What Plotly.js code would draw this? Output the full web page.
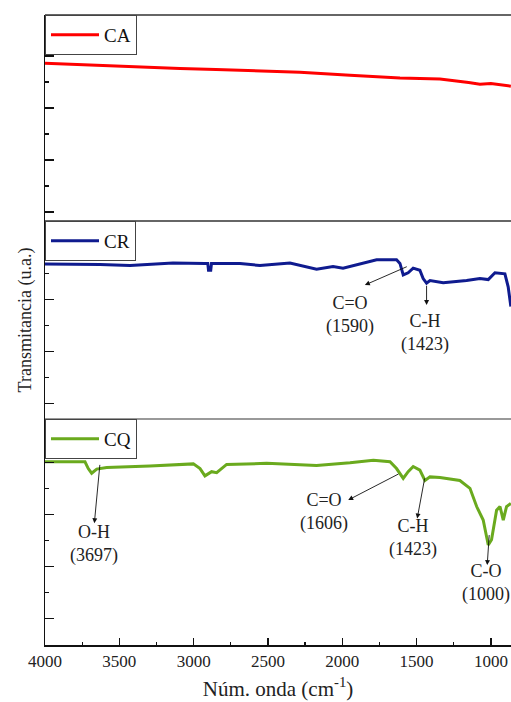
<!DOCTYPE html>
<html>
<head>
<meta charset="utf-8">
<script src="https://cdn.plot.ly/plotly-3.0.1.min.js"></script>
<style>html,body{margin:0;padding:0;background:#fff;}#chart{width:511px;height:702px;}</style>
</head>
<body>
<div id="chart"></div>
<script>
// Wavenumbers (cm-1) and transmittance (arbitrary units)
const wnCA = [4000, 3820, 3630, 3400, 3092, 2850, 2621, 2285, 1948, 1612, 1343, 1209, 1150, 1074, 1000, 866];
const tCA  = [28.6, 28.4, 28.1, 27.9, 27.6, 27.4, 27.2, 26.9, 26.3, 25.8, 25.6, 25.2, 24.9, 24.6, 24.7, 24.2];

const wnCR = [4000, 3630, 3428, 3139, 2925, 2905, 2900, 2885, 2880, 2688, 2554, 2352, 2173, 2062, 1995, 1881, 1769, 1635, 1612, 1590, 1557, 1523, 1478, 1456, 1433, 1410, 1321, 1164, 1074, 1018, 973, 906, 884, 866];
const tCR  = [26.8, 26.7, 26.5, 27.0, 26.9, 26.9, 25.6, 25.6, 26.9, 26.9, 26.5, 27.0, 25.8, 26.3, 26.0, 26.8, 27.6, 27.6, 26.9, 24.7, 25.1, 26.0, 25.6, 24.0, 23.1, 23.6, 23.2, 23.6, 24.0, 23.8, 25.1, 24.9, 22.4, 18.6];

const wnCQ = [4000, 3731, 3709, 3686, 3652, 3585, 3294, 3002, 2957, 2924, 2879, 2845, 2778, 2509, 2173, 1948, 1791, 1679, 1635, 1590, 1557, 1523, 1478, 1444, 1410, 1343, 1209, 1141, 1096, 1052, 1018, 996, 962, 939, 917, 895, 866];
const tCQ  = [30.1, 30.1, 28.8, 27.9, 28.7, 29.0, 29.3, 29.7, 28.8, 27.4, 28.2, 28.0, 29.6, 29.8, 29.4, 29.9, 30.4, 30.1, 28.8, 26.9, 28.2, 29.2, 28.5, 26.5, 27.2, 27.1, 26.5, 25.0, 21.5, 18.9, 14.1, 15.1, 20.8, 21.5, 18.9, 21.5, 22.1];

const seriesNames = ['CA', 'CR', 'CQ'];
const xTickVals = [4000, 3500, 3000, 2500, 2000, 1500, 1000];
const xTickText = ['4000', '3500', '3000', '2500', '2000', '1500', '1000'];

// Band labels: [panel, text, text wn, text y, arrow tail wn, tail y, arrow head wn, head y]
const bands = [
  ['y2', 'C=O<br>(1590)', 1948, 17.0, 1556, 26.4, 1848, 22.75],
  ['y2', 'C-H<br>(1423)', 1444, 13.6, 1433, 22.9, 1433, 18.9],
  ['y3', 'O-H<br>(3697)', 3668, 14.2, 3630, 29.8, 3668, 18.3],
  ['y3', 'C=O<br>(1606)', 2123, 20.4, 1612, 27.9, 1960, 22.75],
  ['y3', 'C-H<br>(1423)', 1523, 15.5, 1444, 27.2, 1496, 19.2],
  ['y3', 'C-O<br>(1000)', 1035, 6.7, 1011, 16.3, 1025, 10.25]
];

const serif = 'Liberation Serif, Times New Roman, serif';
const dom1 = [0.673, 1], dom2 = [0.3587, 0.673], dom3 = [0, 0.3587];

const traces = [
  {x: wnCA, y: tCA, name: seriesNames[0], type: 'scatter', mode: 'lines', xaxis: 'x', yaxis: 'y', legend: 'legend',
   line: {color: '#ff0000', width: 3}},
  {x: wnCR, y: tCR, name: seriesNames[1], type: 'scatter', mode: 'lines', xaxis: 'x', yaxis: 'y2', legend: 'legend2',
   line: {color: '#0f1b8f', width: 3}},
  {x: wnCQ, y: tCQ, name: seriesNames[2], type: 'scatter', mode: 'lines', xaxis: 'x', yaxis: 'y3', legend: 'legend3',
   line: {color: '#6aaa1e', width: 3}}
];

function yax(domain, range, extra) {
  return Object.assign({
    domain: domain, range: range, anchor: 'x', showline: true, linecolor: '#111', linewidth: 1.5,
    showgrid: false, zeroline: false, showticklabels: false,
    ticks: 'inside', ticklen: 9, tickwidth: 1.3, tickcolor: '#111', dtick: 10, tick0: 0,
    minor: {ticks: 'inside', ticklen: 4, tickwidth: 1.3, tickcolor: '#111', dtick: 5, tick0: 0, showgrid: false}
  }, extra || {});
}

function leg(ytop) {
  return {x: 0, y: ytop, xanchor: 'left', yanchor: 'top', xref: 'paper', yref: 'paper',
    bgcolor: '#ffffff', bordercolor: '#444', borderwidth: 1, itemwidth: 48,
    font: {family: serif, size: 19, color: '#111'}, tracegroupgap: 0};
}

const annotations = [];
bands.forEach(b => {
  annotations.push({xref: 'x', yref: b[0], x: b[2], y: b[3], text: b[1], showarrow: false,
    font: {family: serif, size: 18, color: '#222'}, align: 'center', xanchor: 'center', yanchor: 'middle'});
  annotations.push({xref: 'x', yref: b[0], axref: 'x', ayref: b[0], x: b[6], y: b[7], ax: b[4], ay: b[5],
    text: '', showarrow: true, arrowhead: 2, arrowsize: 1.1, arrowwidth: 0.9, arrowcolor: '#111', standoff: 0});
});

const layout = {
  width: 511, height: 702,
  margin: {l: 45, r: 0, t: 15, b: 57, pad: 0},
  paper_bgcolor: '#ffffff', plot_bgcolor: '#ffffff',
  showlegend: true,
  legend: leg(1), legend2: leg(0.673), legend3: leg(0.3587),
  xaxis: {
    range: [4000, 865], autorange: false, anchor: 'y3', showline: true, linecolor: '#111', linewidth: 1.5,
    showgrid: false, zeroline: false, tickmode: 'array', tickvals: xTickVals, ticktext: xTickText,
    ticks: 'inside', ticklen: 7, tickwidth: 1.3, tickcolor: '#111',
    minor: {ticks: 'inside', ticklen: 3.5, tickwidth: 1.3, tickcolor: '#111', dtick: 250, tick0: 0, showgrid: false},
    tickfont: {family: serif, size: 17, color: '#222'},
    title: {text: 'Núm. onda (cm<sup>-1</sup>)', font: {family: serif, size: 21, color: '#222'}, standoff: 11},
    automargin: false
  },
  yaxis: yax(dom1, [-1.73, 37.9]),
  yaxis2: yax(dom2, [-3.02, 35.06], {
    title: {text: 'Transmitancia (u.a.)', font: {family: serif, size: 18, color: '#222'}, standoff: 7},
    automargin: false
  }),
  yaxis3: yax(dom3, [-5.13, 38.33]),
  shapes: [
    {type: 'line', xref: 'paper', yref: 'paper', x0: 0, x1: 1, y0: 1, y1: 1, line: {color: '#333', width: 1.3}},
    {type: 'line', xref: 'paper', yref: 'paper', x0: 0, x1: 1, y0: 0.673, y1: 0.673, line: {color: '#333', width: 1.3}},
    {type: 'line', xref: 'paper', yref: 'paper', x0: 0, x1: 1, y0: 0.3587, y1: 0.3587, line: {color: '#777', width: 1.3}}
  ],
  annotations: annotations
};

Plotly.newPlot('chart', traces, layout, {displayModeBar: false, staticPlot: true});
</script>
</body>
</html>
